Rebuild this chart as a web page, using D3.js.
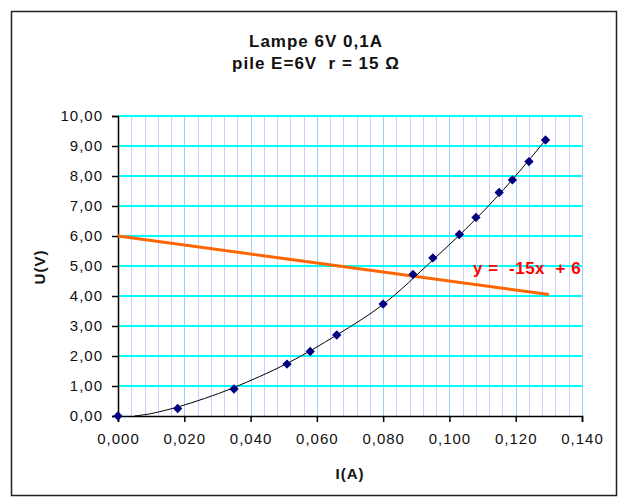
<!DOCTYPE html>
<html>
<head>
<meta charset="utf-8">
<script src="https://cdn.jsdelivr.net/npm/d3@7"></script>
<style>
  body { margin: 0; background: #fff; }
  svg text { font-family: "Liberation Sans", Arial, sans-serif; }
</style>
</head>
<body>
<div id="chart"></div>
<script>
// measured points : current I (A) and voltage U (V)
const current = [0, 0.018, 0.035, 0.051, 0.058, 0.066, 0.080, 0.089, 0.095, 0.103, 0.108, 0.115, 0.119, 0.124, 0.129];
const voltage = [0, 0.25, 0.90, 1.73, 2.15, 2.70, 3.73, 4.72, 5.27, 6.05, 6.62, 7.45, 7.87, 8.48, 9.20];
// trend curve
const trendI = [0.005, 0.010, 0.018, 0.026, 0.035, 0.051, 0.066, 0.080, 0.095, 0.108, 0.119, 0.129];
const trendU = [0.00, 0.08, 0.30, 0.58, 0.95, 1.75, 2.70, 3.72, 5.20, 6.57, 7.88, 9.20];
// battery line y = -15x + 6
const batteryI = [0, 0.130];
const batteryU = [6, 4.05];
const xTicks = [0, 0.02, 0.04, 0.06, 0.08, 0.10, 0.12, 0.14];
const yTicks = [0, 1, 2, 3, 4, 5, 6, 7, 8, 9, 10];
const titleLines = ["Lampe 6V 0,1A", "pile E=6V\u00A0 r = 15 \u03A9"];
const eqLabel = "y =\u00A0 -15x\u00A0 + 6";

const W = 623, H = 498;
const m = {left: 118, right: 582, top: 116, bottom: 416};

const svg = d3.select("#chart").append("svg").attr("width", W).attr("height", H);
svg.append("rect").attr("x", 11.5).attr("y", 11.5).attr("width", 605).attr("height", 484)
  .attr("fill", "#fff").attr("stroke", "#222").attr("stroke-width", 1.5);

const x = d3.scaleLinear().domain([0, 0.14]).range([m.left, m.right]);
const y = d3.scaleLinear().domain([0, 10]).range([m.bottom, m.top]);
const fmt = (d, n) => d.toFixed(n).replace(".", ",");

// vertical grid (minor every 0.004, major every 0.02)
const minor = d3.range(1, 36).map(i => i * 0.004).filter(v => Math.abs(v / 0.02 - Math.round(v / 0.02)) > 1e-6);
svg.append("g").selectAll("line").data(minor).join("line")
  .attr("x1", d => Math.round(x(d)) + 0.5).attr("x2", d => Math.round(x(d)) + 0.5)
  .attr("y1", m.top).attr("y2", m.bottom).attr("stroke", "#ccccff").attr("stroke-width", 1);
svg.append("g").selectAll("line").data(xTicks.slice(1)).join("line")
  .attr("x1", d => Math.round(x(d)) + 0.5).attr("x2", d => Math.round(x(d)) + 0.5)
  .attr("y1", m.top).attr("y2", m.bottom).attr("stroke", "#99ccff").attr("stroke-width", 1);
// horizontal grid
svg.append("g").selectAll("line").data(yTicks.slice(1)).join("line")
  .attr("x1", m.left).attr("x2", m.right)
  .attr("y1", d => y(d)).attr("y2", d => y(d)).attr("stroke", "#00ffff").attr("stroke-width", 2);

// axes
const xAxis = svg.append("g").attr("transform", `translate(0,${m.bottom})`)
  .call(d3.axisBottom(x).tickValues(xTicks).tickSize(6).tickPadding(11).tickFormat(d => fmt(d, 3)));
const yAxis = svg.append("g").attr("transform", `translate(${m.left},0)`)
  .call(d3.axisLeft(y).tickValues(yTicks).tickSize(6).tickPadding(9).tickFormat(d => fmt(d, 2)));
[xAxis, yAxis].forEach(g => {
  g.select(".domain").attr("stroke", "#000").attr("stroke-width", 1.5);
  g.selectAll(".tick line").attr("stroke", "#000").attr("stroke-width", 1.5);
  g.selectAll("text").attr("font-size", 15).attr("fill", "#111").attr("letter-spacing", 1)
    .style("font-family", "'Liberation Sans', Arial, sans-serif");
});

// battery line
svg.append("path").datum(batteryI.map((d, i) => [d, batteryU[i]]))
  .attr("d", d3.line().x(d => x(d[0])).y(d => y(d[1])))
  .attr("fill", "none").attr("stroke", "#ff6600").attr("stroke-width", 3);

// trend curve
svg.append("path").datum(trendI.map((d, i) => [d, trendU[i]]))
  .attr("d", d3.line().x(d => x(d[0])).y(d => y(d[1])).curve(d3.curveCatmullRom))
  .attr("fill", "none").attr("stroke", "#000").attr("stroke-width", 1);

// measured points as diamonds
svg.append("g").selectAll("path").data(current.map((d, i) => [d, voltage[i]])).join("path")
  .attr("transform", d => `translate(${x(d[0])},${y(d[1])}) rotate(45)`)
  .attr("d", "M-3.3,-3.3H3.3V3.3H-3.3Z").attr("fill", "#000080");

// equation label
svg.append("text").attr("x", 473).attr("y", 274).attr("font-size", 17).attr("font-weight", "bold")
  .attr("letter-spacing", 0.5).attr("fill", "#ff0000").text(eqLabel);

// titles
svg.append("g").selectAll("text").data(titleLines).join("text")
  .attr("x", 316).attr("y", (d, i) => 47 + i * 22).attr("text-anchor", "middle")
  .attr("font-size", 17).attr("font-weight", "bold").attr("letter-spacing", 1)
  .attr("fill", "#111").text(d => d);
svg.append("text").attr("x", 350).attr("y", 479).attr("text-anchor", "middle")
  .attr("font-size", 15).attr("font-weight", "bold").attr("letter-spacing", 1)
  .attr("fill", "#111").text("I(A)");
svg.append("text").attr("transform", "translate(45,267) rotate(-90)").attr("text-anchor", "middle")
  .attr("font-size", 15).attr("font-weight", "bold").attr("letter-spacing", 1)
  .attr("fill", "#111").text("U(V)");
</script>
</body>
</html>
